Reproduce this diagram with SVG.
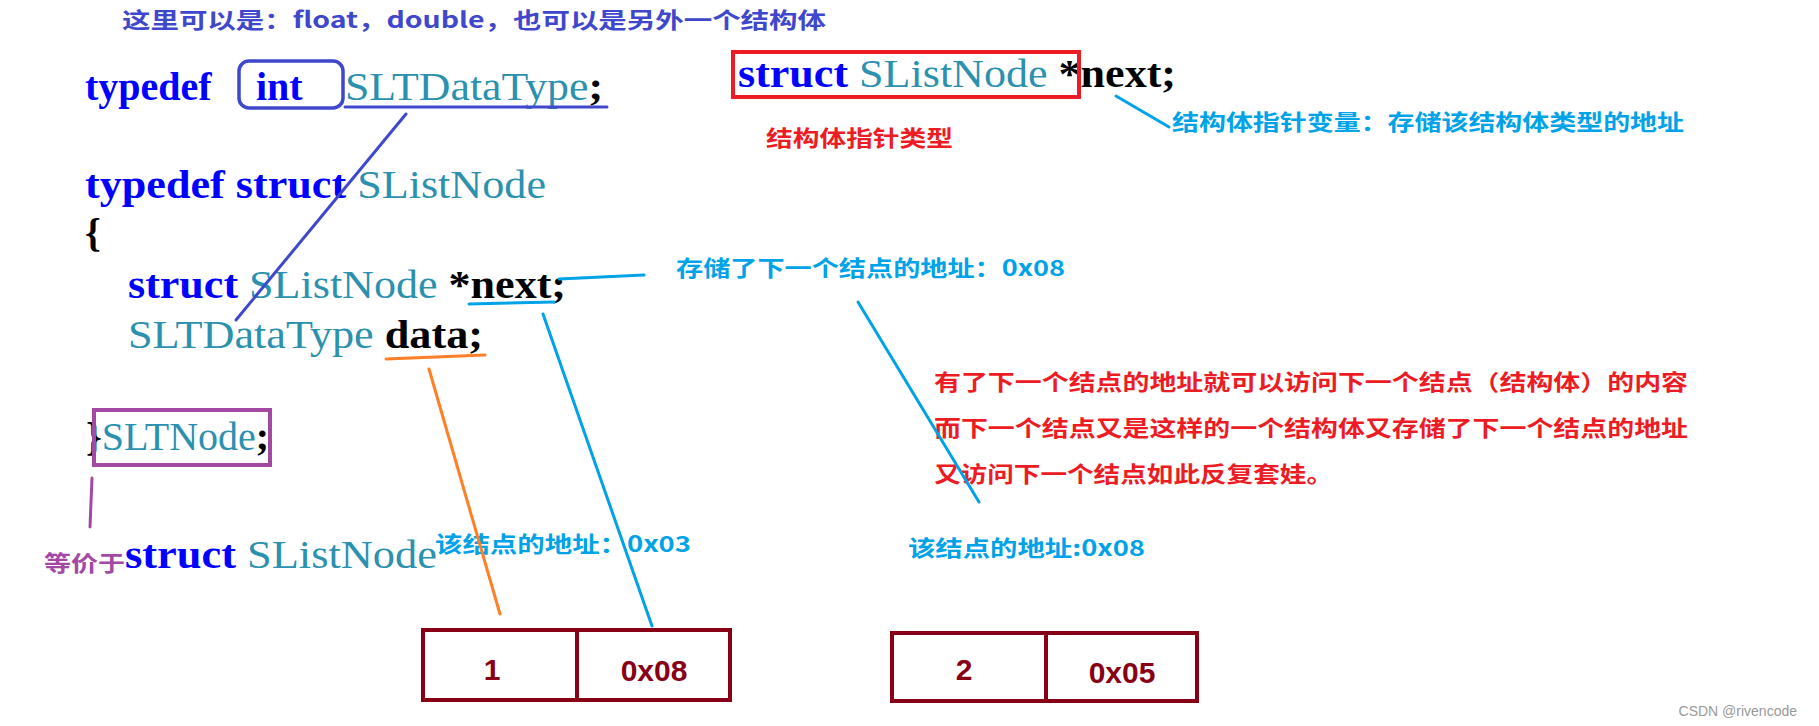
<svg xmlns="http://www.w3.org/2000/svg" width="1819" height="726" viewBox="0 0 1819 726">
<style>
.code{font-family:"Liberation Serif",serif;font-size:40px}
.kw{fill:#0000ff;font-weight:bold}
.ty{fill:#2b91af}
.bk{fill:#000;font-weight:bold}
.cn{font-family:"Noto Sans CJK SC","Liberation Sans",sans-serif;font-weight:bold;font-size:22px}
.num{font-family:"Liberation Sans",sans-serif;font-weight:bold;font-size:30px;fill:#880015;text-anchor:middle}
.ln{fill:none;stroke-width:3;stroke-linecap:round}
</style>
<rect width="1819" height="726" fill="#fff"/>
<g id="code">
<text class="code" x="85" y="100"><tspan class="kw">typedef</tspan></text>
<text class="code" x="256" y="100"><tspan class="kw">int</tspan></text>
<text class="code" x="345" y="100" textLength="258" lengthAdjust="spacingAndGlyphs"><tspan class="ty">SLTDataType</tspan><tspan class="bk">;</tspan></text>
<text class="code" x="85" y="198" textLength="461" lengthAdjust="spacingAndGlyphs"><tspan class="kw">typedef struct </tspan><tspan class="ty">SListNode</tspan></text>
<text class="code" x="85" y="246"><tspan class="bk">{</tspan></text>
<text class="code" x="128" y="298" textLength="438" lengthAdjust="spacingAndGlyphs"><tspan class="kw">struct </tspan><tspan class="ty">SListNode </tspan><tspan class="bk">*next;</tspan></text>
<text class="code" x="128" y="348" textLength="355" lengthAdjust="spacingAndGlyphs"><tspan class="ty">SLTDataType </tspan><tspan class="bk">data;</tspan></text>
<text class="code" x="86" y="450"><tspan class="bk">}</tspan><tspan class="ty">SLTNode</tspan><tspan class="bk">;</tspan></text>
<text class="code" x="125" y="568" textLength="312" lengthAdjust="spacingAndGlyphs"><tspan class="kw">struct </tspan><tspan class="ty">SListNode</tspan></text>
<text class="code" x="738" y="87" textLength="438" lengthAdjust="spacingAndGlyphs"><tspan class="kw">struct </tspan><tspan class="ty">SListNode </tspan><tspan class="bk">*next;</tspan></text>
</g>
<g id="frames">
<rect x="239" y="61" width="104" height="47" rx="10" fill="none" stroke="#3f48cc" stroke-width="3.5"/>
<rect x="94" y="410" width="176" height="55" fill="none" stroke="#a349a4" stroke-width="4"/>
<rect x="733" y="52" width="346" height="45" fill="none" stroke="#ed1c24" stroke-width="4"/>
</g>
<g id="labels">
<text class="cn" x="122" y="28" fill="#3f48cc" textLength="704" lengthAdjust="spacingAndGlyphs">这里可以是：float，double，也可以是另外一个结构体</text>
<text class="cn" x="766" y="146" fill="#ed1c24" textLength="187" lengthAdjust="spacingAndGlyphs">结构体指针类型</text>
<text class="cn" x="1172" y="130" fill="#00a2e8" textLength="512" lengthAdjust="spacingAndGlyphs">结构体指针变量：存储该结构体类型的地址</text>
<text class="cn" x="676" y="276" fill="#00a2e8" textLength="389" lengthAdjust="spacingAndGlyphs">存储了下一个结点的地址：0x08</text>
<text class="cn" x="934" y="390" fill="#ed1c24" textLength="754" lengthAdjust="spacingAndGlyphs">有了下一个结点的地址就可以访问下一个结点（结构体）的内容</text>
<text class="cn" x="934" y="436" fill="#ed1c24" textLength="754" lengthAdjust="spacingAndGlyphs">而下一个结点又是这样的一个结构体又存储了下一个结点的地址</text>
<text class="cn" x="934" y="482" fill="#ed1c24" textLength="399" lengthAdjust="spacingAndGlyphs">又访问下一个结点如此反复套娃。</text>
<text class="cn" x="44" y="571" fill="#a349a4" textLength="81" lengthAdjust="spacingAndGlyphs">等价于</text>
<text class="cn" x="435" y="552" fill="#00a2e8" textLength="256" lengthAdjust="spacingAndGlyphs">该结点的地址：0x03</text>
<text class="cn" x="908" y="556" fill="#00a2e8" textLength="237" lengthAdjust="spacingAndGlyphs">该结点的地址:0x08</text>
<text x="1797" y="716" font-family="Liberation Sans,sans-serif" font-size="14" fill="#999" text-anchor="end">CSDN @rivencode</text>
</g>
<g id="node1">
<rect x="423" y="630" width="307" height="70" fill="none" stroke="#880015" stroke-width="4"/>
<line x1="577" y1="630" x2="577" y2="700" stroke="#880015" stroke-width="4"/>
<text class="num" x="492" y="680">1</text>
<text class="num" x="654" y="681">0x08</text>
</g>
<g id="node2">
<rect x="892" y="633" width="305" height="68" fill="none" stroke="#880015" stroke-width="4"/>
<line x1="1046" y1="633" x2="1046" y2="701" stroke="#880015" stroke-width="4"/>
<text class="num" x="964" y="680">2</text>
<text class="num" x="1122" y="683">0x05</text>
</g>
<g id="connectors">
<line class="ln" x1="345" y1="107" x2="607" y2="107" stroke="#3f48cc"/>
<line class="ln" x1="406" y1="114" x2="236" y2="320" stroke="#3f48cc"/>
<line class="ln" x1="469" y1="304" x2="554" y2="302" stroke="#00a2e8"/>
<line class="ln" x1="559" y1="279" x2="644" y2="275" stroke="#00a2e8"/>
<line class="ln" x1="543" y1="314" x2="652" y2="626" stroke="#00a2e8"/>
<line class="ln" x1="386" y1="359" x2="485" y2="355" stroke="#ff7f27"/>
<line class="ln" x1="429" y1="369" x2="500" y2="614" stroke="#ff7f27"/>
<line class="ln" x1="92" y1="478" x2="90" y2="527" stroke="#a349a4"/>
<line class="ln" x1="1116" y1="96" x2="1169" y2="127" stroke="#00a2e8"/>
<line class="ln" x1="858" y1="302" x2="979" y2="502" stroke="#00a2e8"/>
</g>
</svg>
